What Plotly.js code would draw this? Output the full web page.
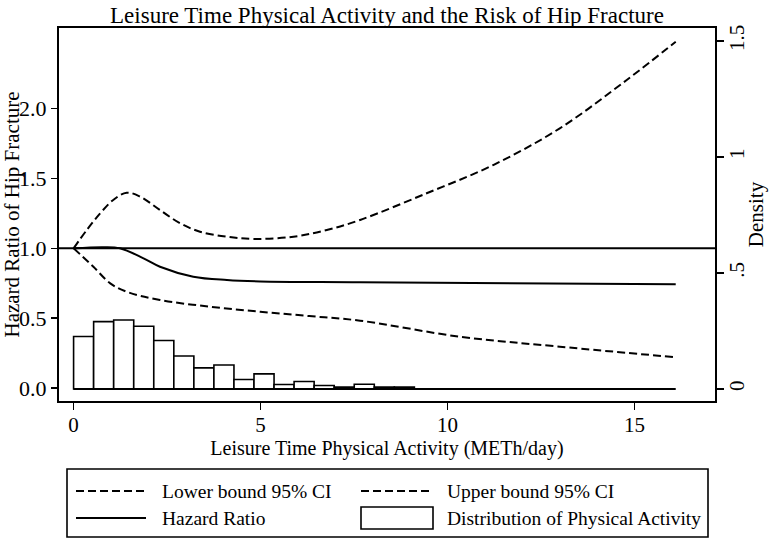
<!DOCTYPE html>
<html>
<head>
<meta charset="utf-8">
<script src="https://cdn.plot.ly/plotly-3.0.1.min.js"></script>
<style>html,body{margin:0;padding:0;background:#fff;}#chart{width:774px;height:539px;}</style>
</head>
<body>
<div id="chart"></div>
<script>
// ---- Data ----
const upperX = [0, 0.35, 0.71, 1.06, 1.42, 1.78, 2.31, 2.85, 3.38, 4.1, 4.81, 5.88, 6.77, 7.66, 9.44, 11.22, 13.0, 14.79, 16.1];
const upperHR = [1.0, 1.13, 1.25, 1.346, 1.398, 1.37, 1.274, 1.179, 1.119, 1.083, 1.067, 1.083, 1.131, 1.203, 1.394, 1.596, 1.859, 2.205, 2.479];

const lowerX = [0, 0.53, 0.98, 1.42, 2.31, 3.65, 4.99, 6.3, 7.66, 10.33, 13.0, 16.1];
const lowerHR = [1.0, 0.868, 0.749, 0.689, 0.63, 0.582, 0.546, 0.515, 0.482, 0.367, 0.296, 0.220];

const hrX = [0, 0.8, 1.24, 1.87, 2.31, 3.2, 4.1, 4.99, 7.66, 16.1];
const hrY = [1.0, 1.008, 1.0, 0.928, 0.868, 0.797, 0.773, 0.763, 0.757, 0.742];

const binStart = 0;
const binWidth = 0.536;
const density = [0.226, 0.290, 0.297, 0.270, 0.209, 0.142, 0.091, 0.103, 0.041, 0.065, 0.019, 0.032, 0.015, 0.008, 0.020, 0.008, 0.008];

const zeroLineX = [0, 16.1];
const zeroLineY = [0, 0];

const xTicks = [0, 5, 10, 15];
const yTicks = [0, 0.5, 1.0, 1.5, 2.0];
const yTickText = ["0.0", "0.5", "1.0", "1.5", "2.0"];
const y2Ticks = [0, 0.5, 1, 1.5];
const y2TickText = ["0", ".5", "1", "1.5"];

const titleText = "Leisure Time Physical Activity and the Risk of Hip Fracture";
const xTitle = "Leisure Time Physical Activity (METh/day)";
const yTitle = "Hazard Ratio of Hip Fracture";
const y2Title = "Density";
const legendLabels = ["Lower bound 95% CI", "Upper bound 95% CI", "Hazard Ratio", "Distribution of Physical Activity"];

// ---- Build ----
const binCenters = density.map((_, i) => binStart + binWidth * (i + 0.5));
const FONT = "Liberation Serif, Times New Roman, serif";
const DASH = "8px,4px";

const L = 59, R = 715, T = 28, B = 401;
const W = 774, H = 539;
const fx = px => (px - L) / (R - L);
const fy = py => (B - py) / (B - T);

const traces = [
  {x: binCenters, y: density, type: 'bar', width: binWidth, xaxis: 'x', yaxis: 'y2',
   marker: {color: '#ffffff', line: {color: '#000000', width: 1.6}}, showlegend: false, hoverinfo: 'skip'},
  {x: zeroLineX, y: zeroLineY, type: 'scatter', mode: 'lines', xaxis: 'x', yaxis: 'y2',
   line: {color: '#000', width: 2}, showlegend: false, hoverinfo: 'skip'},
  {x: lowerX, y: lowerHR, type: 'scatter', mode: 'lines', name: legendLabels[0],
   line: {color: '#000', width: 2, dash: DASH, shape: 'spline', smoothing: 1}, showlegend: false},
  {x: upperX, y: upperHR, type: 'scatter', mode: 'lines', name: legendLabels[1],
   line: {color: '#000', width: 2, dash: DASH, shape: 'spline', smoothing: 1}, showlegend: false},
  {x: hrX, y: hrY, type: 'scatter', mode: 'lines', name: legendLabels[2],
   line: {color: '#000', width: 2, shape: 'spline', smoothing: 1}, showlegend: false}
];

// Manual legend (Stata style)
const r1 = 491, r2 = 518;
const shapes = [
  {type: 'line', xref: 'paper', yref: 'y', x0: 0, x1: 1, y0: 1, y1: 1, line: {color: '#000', width: 2}},
  {type: 'rect', xref: 'paper', yref: 'paper', x0: fx(67), x1: fx(708), y0: fy(469), y1: fy(537), line: {color: '#000', width: 1.6}},
  {type: 'line', xref: 'paper', yref: 'paper', x0: fx(76), x1: fx(145), y0: fy(r1), y1: fy(r1), line: {color: '#000', width: 2, dash: DASH}},
  {type: 'line', xref: 'paper', yref: 'paper', x0: fx(361), x1: fx(430), y0: fy(r1), y1: fy(r1), line: {color: '#000', width: 2, dash: DASH}},
  {type: 'line', xref: 'paper', yref: 'paper', x0: fx(76), x1: fx(146), y0: fy(r2), y1: fy(r2), line: {color: '#000', width: 2}},
  {type: 'rect', xref: 'paper', yref: 'paper', x0: fx(361), x1: fx(433), y0: fy(507), y1: fy(529), line: {color: '#000', width: 1.6}, fillcolor: '#fff'}
];
const legFont = {family: FONT, size: 19.5, color: '#000'};
const annotations = [
  {text: legendLabels[0], x: fx(160), y: fy(r1)},
  {text: legendLabels[1], x: fx(445), y: fy(r1)},
  {text: legendLabels[2], x: fx(160), y: fy(r2)},
  {text: legendLabels[3], x: fx(445), y: fy(r2)}
].map(a => Object.assign(a, {xref: 'paper', yref: 'paper', xanchor: 'left', yanchor: 'middle', showarrow: false, font: legFont}));

const layout = {
  width: W, height: H,
  paper_bgcolor: '#fff', plot_bgcolor: '#fff',
  margin: {l: L, r: W - R, t: T, b: H - B, pad: 0},
  font: {family: FONT, color: '#000', size: 20},
  title: {text: titleText, font: {family: FONT, size: 23, color: '#000'}, x: 0.5, xref: 'paper', xanchor: 'center',
          y: 1 - 15 / H, yref: 'container', yanchor: 'middle'},
  showlegend: false,
  bargap: 0,
  xaxis: {range: [-0.39, 17.15], tickmode: 'array', tickvals: xTicks, ticktext: xTicks.map(String),
          ticks: 'outside', ticklen: 7, tickwidth: 1.5, tickcolor: '#000', showgrid: false, zeroline: false,
          showline: true, linecolor: '#000', linewidth: 2, mirror: true,
          tickfont: {family: FONT, size: 21, color: '#000'}, ticklabelstandoff: -3,
          title: {text: xTitle, font: {family: FONT, size: 20, color: '#000'}, standoff: 0}},
  yaxis: {range: [-0.093, 2.577], tickmode: 'array', tickvals: yTicks, ticktext: yTickText,
          ticks: 'outside', ticklen: 6, tickwidth: 1.5, tickcolor: '#000', showgrid: false, zeroline: false,
          showline: true, linecolor: '#000', linewidth: 2, mirror: true,
          tickfont: {family: FONT, size: 22, color: '#000'}, ticklabelstandoff: 0,
          title: {text: yTitle, font: {family: FONT, size: 21, color: '#000'}, standoff: 0}},
  yaxis2: {range: [-0.052, 1.556], overlaying: 'y', side: 'right', tickmode: 'array', tickvals: y2Ticks, ticktext: y2TickText,
           ticks: 'outside', ticklen: 7, tickwidth: 1.5, tickcolor: '#000', showgrid: false, zeroline: false,
           showline: true, linecolor: '#000', linewidth: 2, tickangle: -90,
           tickfont: {family: FONT, size: 21, color: '#000'}, ticklabelstandoff: -5,
           title: {text: y2Title, font: {family: FONT, size: 21, color: '#000'}, standoff: 0}},
  shapes: shapes,
  annotations: annotations
};

Plotly.newPlot('chart', traces, layout, {displayModeBar: false, staticPlot: true});
</script>
</body>
</html>
